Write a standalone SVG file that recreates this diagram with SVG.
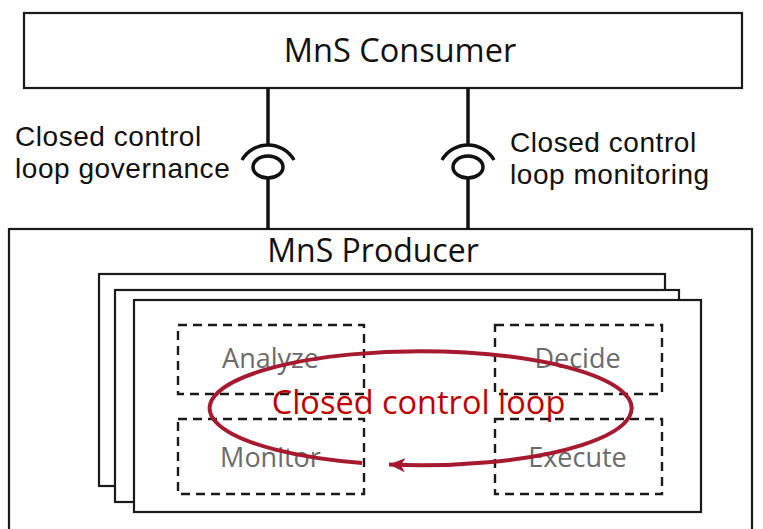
<svg xmlns="http://www.w3.org/2000/svg" width="763" height="529" viewBox="0 0 763 529">
<defs>
<style>
.box{fill:#fff;stroke:#1a1a1a;stroke-width:2.2}
.dash{fill:none;stroke:#1a1a1a;stroke-width:2.4;stroke-dasharray:9 6}
.conn{fill:none;stroke:#111;stroke-width:3.5}
.t{font-family:"Open Sans","Noto Sans","Liberation Sans",sans-serif;fill:#111}
.lb{font-family:"Liberation Sans",Arial,sans-serif;fill:#111;font-size:28px;letter-spacing:0.55px}
.g{font-family:"Open Sans","Noto Sans","Liberation Sans",sans-serif;fill:#6b6b6b;font-size:27px;text-anchor:middle}
.loop{fill:none;stroke:#A6192E;stroke-width:4}
</style>
<marker id="ah" markerUnits="userSpaceOnUse" markerWidth="18" markerHeight="16" refX="16" refY="7" orient="auto">
<path d="M16,7 L0,0 L4,7 L0,14 Z" fill="#A6192E"/>
</marker>
</defs>
<rect width="763" height="529" fill="#fff"/>
<g id="consumer">
<rect class="box" x="24" y="13" width="718" height="75"/>
<text class="t" x="400" y="62" font-size="32.5" text-anchor="middle">MnS Consumer</text>
</g>
<g id="producer">
<rect class="box" x="9" y="229" width="743" height="320"/>
<text class="t" x="373" y="262" font-size="32" text-anchor="middle">MnS Producer</text>
</g>
<g id="loop-stack">
<rect class="box" x="99" y="274" width="566" height="212"/>
<rect class="box" x="115" y="290" width="564" height="212"/>
<rect class="box" x="134" y="300" width="567" height="212"/>
</g>
<g id="analyze">
<rect class="dash" x="178" y="325" width="186" height="69"/>
<text class="g" x="270.5" y="368">Analyze</text>
</g>
<g id="decide">
<rect class="dash" x="495" y="325" width="167" height="69"/>
<text class="g" x="577.5" y="368">Decide</text>
</g>
<g id="monitor">
<rect class="dash" x="178" y="419" width="186" height="75"/>
<text class="g" x="270.5" y="467">Monitor</text>
</g>
<g id="execute">
<rect class="dash" x="495" y="419" width="167" height="75"/>
<text class="g" x="577.5" y="467">Execute</text>
</g>
<g id="closed-loop">
<path class="loop" d="M362,463 A211,57 0 1 1 389,464.6" marker-end="url(#ah)"/>
<text x="418.5" y="414" font-size="32.5" text-anchor="middle" fill="#C00000" font-family="Open Sans, Noto Sans, Liberation Sans, sans-serif">Closed control loop</text>
</g>
<g id="connectors">
<line class="conn" x1="268" y1="88" x2="268" y2="145"/>
<path class="conn" d="M242,160 A30,30 0 0 1 294,160"/>
<ellipse class="conn" cx="268" cy="167" rx="15" ry="11"/>
<line class="conn" x1="268" y1="178" x2="268" y2="229"/>
<line class="conn" x1="468" y1="88" x2="468" y2="145"/>
<path class="conn" d="M442,160 A30,30 0 0 1 494,160"/>
<ellipse class="conn" cx="468" cy="167" rx="15" ry="11"/>
<line class="conn" x1="468" y1="178" x2="468" y2="229"/>
</g>
<g id="labels">
<text class="lb" x="15" y="146">Closed control</text>
<text class="lb" x="15" y="178">loop governance</text>
<text class="lb" x="510" y="152">Closed control</text>
<text class="lb" x="510" y="184">loop monitoring</text>
</g>
</svg>
